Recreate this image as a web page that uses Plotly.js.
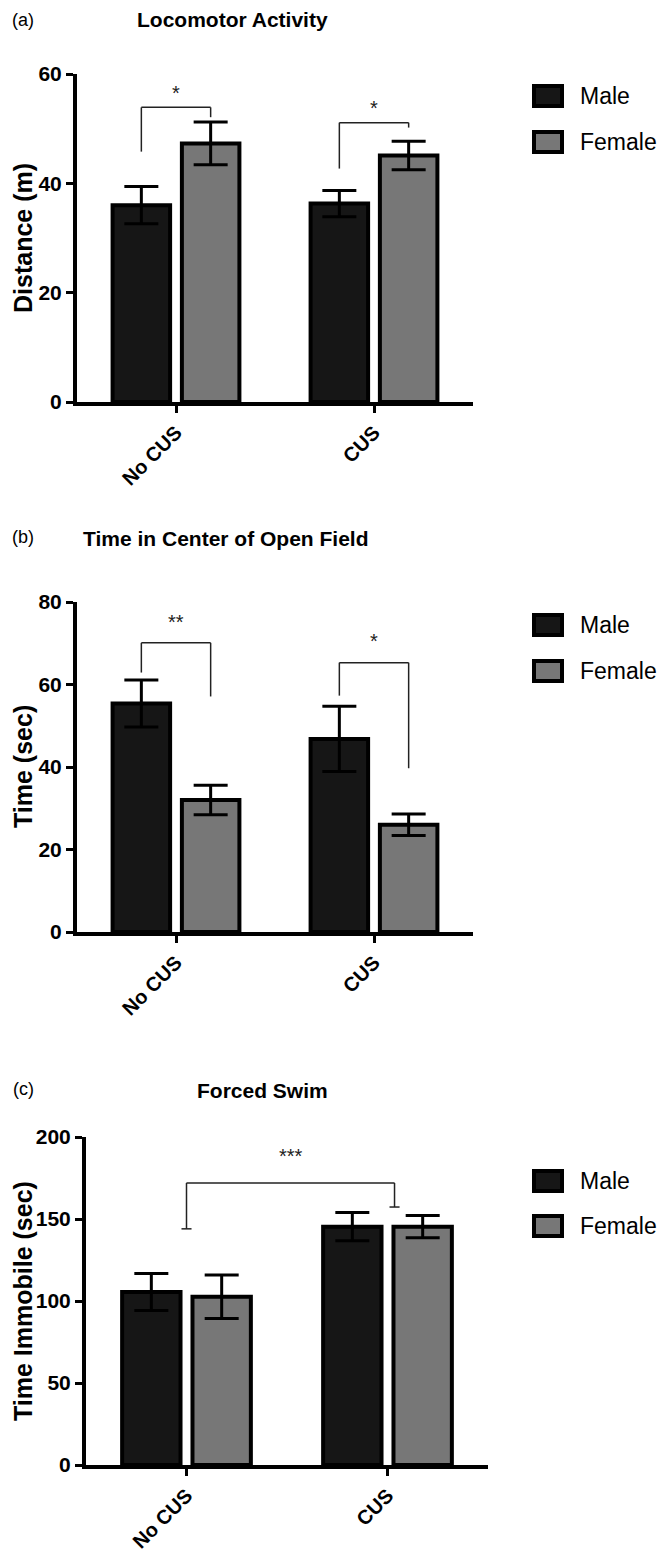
<!DOCTYPE html>
<html>
<head>
<meta charset="utf-8">
<script src="https://cdn.plot.ly/plotly-3.0.1.min.js"></script>
<style>html,body{margin:0;padding:0;background:#fff;}#chart{width:667px;height:1559px;}</style>
</head>
<body>
<div id="chart"></div>
<script>
// ---------- data ----------
const groups = ['No CUS', 'CUS'];
const seriesNames = ['Male', 'Female'];

const locoMale = [36.0, 36.3];
const locoMaleErr = [3.4, 2.4];
const locoFemale = [47.3, 45.1];
const locoFemaleErr = [3.9, 2.6];

const centerMale = [55.4, 46.8];
const centerMaleErr = [5.7, 7.9];
const centerFemale = [32.0, 26.0];
const centerFemaleErr = [3.6, 2.6];

const swimMale = [105.5, 145.3];
const swimMaleErr = [11.3, 8.6];
const swimFemale = [102.6, 145.3];
const swimFemaleErr = [13.2, 6.8];

const panelTitles = ['Locomotor Activity', 'Time in Center of Open Field', 'Forced Swim'];
const panelLetters = ['(a)', '(b)', '(c)'];
const yTitles = ['Distance (m)', 'Time (sec)', 'Time Immobile (sec)'];
const yMax = [60, 80, 200];
const yStep = [20, 20, 50];

// significance brackets: [group0, side0, group1, side1, top, leftEnd, rightEnd, labelY, label]
const locoSig = [[0, -1, 0, 1, 53.9, 45.8, 52.1, 56.6, '*'], [1, -1, 1, 1, 51.1, 42.7, 50.2, 53.7, '*']];
const centerSig = [[0, -1, 0, 1, 70.1, 62.9, 57.1, 75.2, '**'], [1, -1, 1, 1, 65.3, 57.3, 39.7, 70.6, '*']];
const swimSig = [[0, 0, 1, 0.2, 172, 144, 157.3, 188.4, '***']];

// ---------- styling ----------
const W = 667, H = 1559;
const px = v => v / W;
const py = v => 1 - v / H;
const MALE = '#161616', FEMALE = '#777777';
const FONT = 'Liberation Sans, Arial, sans-serif';
const BARGAP = 0.3;
const OFF = (1 - BARGAP) / 4;

const panels = [
  {m: locoMale, me: locoMaleErr, f: locoFemale, fe: locoFemaleErr, sig: locoSig,
   xd: [77, 473], yd: [74, 402], title: [232, 20], letter: [23, 20], leg: [96, 142], caps: false},
  {m: centerMale, me: centerMaleErr, f: centerFemale, fe: centerFemaleErr, sig: centerSig,
   xd: [77, 473], yd: [602, 932], title: [226, 538], letter: [23, 537], leg: [625, 671], caps: false},
  {m: swimMale, me: swimMaleErr, f: swimFemale, fe: swimFemaleErr, sig: swimSig,
   xd: [86, 488], yd: [1137, 1465], title: [262, 1090], letter: [23, 1089], leg: [1181, 1226], caps: true}
];

const traces = [];
const shapes = [];
const annotations = [];
const layout = {
  width: W, height: H,
  margin: {l: 0, r: 0, t: 0, b: 0},
  paper_bgcolor: '#fff', plot_bgcolor: '#fff',
  barmode: 'group', bargap: BARGAP, bargroupgap: 0.17,
  showlegend: false,
  font: {family: FONT, color: '#000'}
};

panels.forEach((p, i) => {
  const n = i === 0 ? '' : String(i + 1);
  const xa = 'x' + n, ya = 'y' + n;
  const err = (arr) => ({type: 'data', array: arr, visible: true, thickness: 3, width: 17, color: '#000'});
  traces.push({type: 'bar', name: seriesNames[0], x: groups, y: p.m, xaxis: xa, yaxis: ya,
    marker: {color: MALE, line: {color: '#000', width: 4}}, error_y: err(p.me), hoverinfo: 'skip'});
  traces.push({type: 'bar', name: seriesNames[1], x: groups, y: p.f, xaxis: xa, yaxis: ya,
    marker: {color: FEMALE, line: {color: '#000', width: 4}}, error_y: err(p.fe), hoverinfo: 'skip'});

  layout['xaxis' + n] = {
    domain: [px(p.xd[0]), px(p.xd[1])], anchor: ya, range: [-0.5, 1.5], type: 'category',
    showline: true, linewidth: 4, linecolor: '#000', ticks: 'outside', ticklen: 7, tickwidth: 3,
    tickcolor: '#000', tickangle: -45, showgrid: false, zeroline: false, fixedrange: true,
    tickfont: {family: FONT, size: 20, weight: 'bold', color: '#000'}
  };
  layout['yaxis' + n] = {
    domain: [py(p.yd[1]), py(p.yd[0])], anchor: xa, range: [0, yMax[i]], dtick: yStep[i],
    showline: true, linewidth: 4, linecolor: '#000', ticks: 'outside', ticklen: 7, tickwidth: 3,
    tickcolor: '#000', showgrid: false, zeroline: false, fixedrange: true,
    tickfont: {family: FONT, size: 21, weight: 'bold', color: '#000'}
  };

  // brackets
  p.sig.forEach(s => {
    const xL = s[0] + s[1] * OFF, xR = s[2] + s[3] * OFF;
    const ln = {color: '#222', width: 1.5};
    shapes.push({type: 'line', xref: xa, yref: ya, x0: xL, x1: xL, y0: s[5], y1: s[4], line: ln});
    shapes.push({type: 'line', xref: xa, yref: ya, x0: xL, x1: xR, y0: s[4], y1: s[4], line: ln});
    shapes.push({type: 'line', xref: xa, yref: ya, x0: xR, x1: xR, y0: s[4], y1: s[6], line: ln});
    if (p.caps) {
      shapes.push({type: 'line', xref: xa, yref: ya, x0: xL - 0.025, x1: xL + 0.025, y0: s[5], y1: s[5], line: ln});
      shapes.push({type: 'line', xref: xa, yref: ya, x0: xR - 0.025, x1: xR + 0.025, y0: s[6], y1: s[6], line: ln});
    }
    annotations.push({xref: xa, yref: ya, x: (xL + xR) / 2, y: s[7], text: s[8], showarrow: false,
      font: {family: FONT, size: 20, color: '#222'}, xanchor: 'center', yanchor: 'middle'});
  });

  // titles
  annotations.push({xref: 'paper', yref: 'paper', x: px(p.title[0]), y: py(p.title[1]), text: panelTitles[i],
    showarrow: false, xanchor: 'center', yanchor: 'middle', font: {family: FONT, size: 21, weight: 'bold', color: '#000'}});
  annotations.push({xref: 'paper', yref: 'paper', x: px(p.letter[0]), y: py(p.letter[1]), text: panelLetters[i],
    showarrow: false, xanchor: 'center', yanchor: 'middle', font: {family: FONT, size: 18, color: '#000'}});
  annotations.push({xref: 'paper', yref: 'paper', x: px(23), y: py((p.yd[0] + p.yd[1]) / 2), text: yTitles[i],
    textangle: -90, showarrow: false, xanchor: 'center', yanchor: 'middle',
    font: {family: FONT, size: 25, weight: 'bold', color: '#000'}});

  // legend
  [[MALE, seriesNames[0], p.leg[0]], [FEMALE, seriesNames[1], p.leg[1]]].forEach(([c, name, yc]) => {
    shapes.push({type: 'rect', xref: 'paper', yref: 'paper', x0: px(534), x1: px(562), y0: py(yc + 10), y1: py(yc - 10),
      fillcolor: c, line: {color: '#000', width: 4}});
    annotations.push({xref: 'paper', yref: 'paper', x: px(578), y: py(yc), text: name, showarrow: false,
      xanchor: 'left', yanchor: 'middle', font: {family: FONT, size: 23, color: '#000'}});
  });
});

layout.shapes = shapes;
layout.annotations = annotations;
Plotly.newPlot('chart', traces, layout, {displayModeBar: false, staticPlot: true});
</script>
</body>
</html>
